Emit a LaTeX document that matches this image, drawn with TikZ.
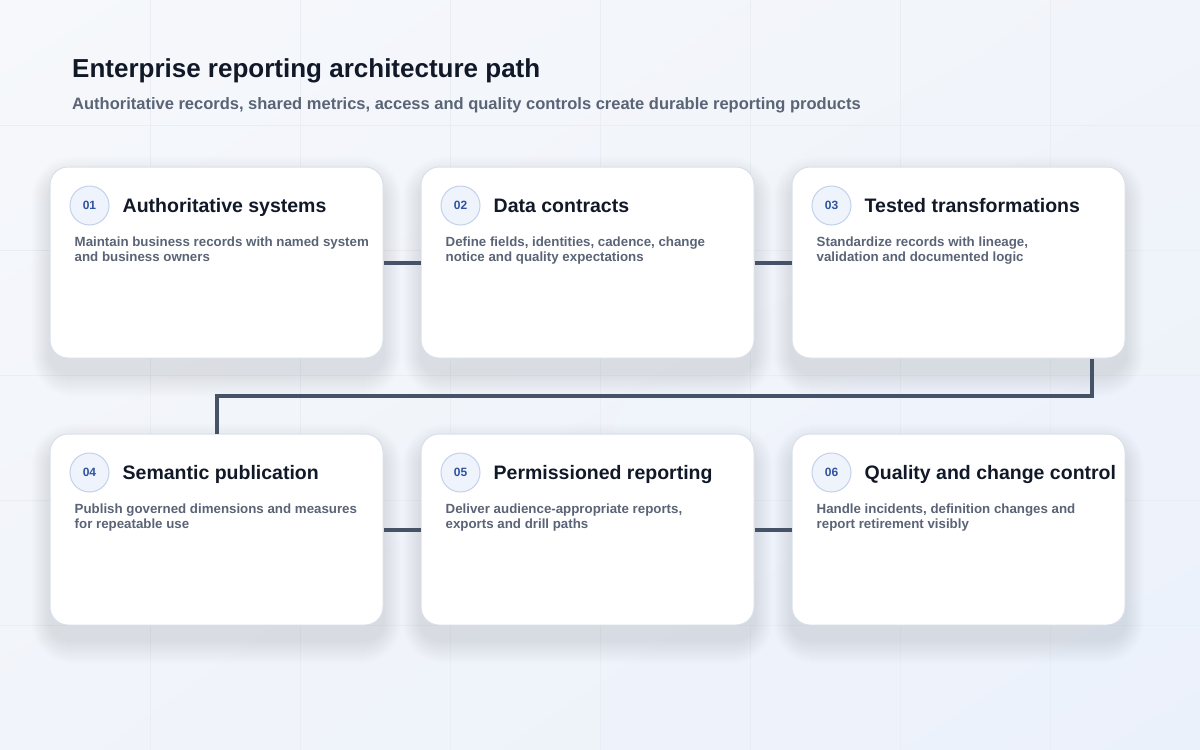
\documentclass[tikz,border=0pt]{standalone}
\usepackage{fontspec}
\setmainfont{Liberation Sans}
\usetikzlibrary{calc,shadings}
\pgfdeclarelayer{bg}
\pgfsetlayers{bg,main}
\definecolor{bgA}{HTML}{F6F8FB}
\definecolor{bgB}{HTML}{F1F4FA}
\definecolor{bgC}{HTML}{EBF1FB}
\definecolor{gridc}{HTML}{E9EDF4}
\definecolor{shadowc}{HTML}{7D8FB4}
\definecolor{cardborder}{HTML}{D9E0EA}
\definecolor{titlec}{HTML}{111827}
\definecolor{descc}{HTML}{5A6476}
\definecolor{badgefill}{HTML}{EEF3FC}
\definecolor{badgeborder}{HTML}{C3D1EA}
\definecolor{badgetext}{HTML}{2F53A0}
\definecolor{connc}{HTML}{465266}
\begin{document}
\begin{tikzpicture}[x=1pt,y=-1pt,
  card/.style={draw=cardborder, line width=1pt, fill=white, rounded corners=18pt,
    minimum width=333pt, minimum height=191pt, inner sep=0pt},
  badge/.style={circle, draw=badgeborder, fill=badgefill, line width=1pt,
    minimum size=39pt, inner sep=0pt, text=badgetext,
    font=\fontsize{12}{12}\selectfont\bfseries},
  cardtitle/.style={anchor=base west, inner sep=0pt, text=titlec,
    font=\fontsize{19.5}{22}\selectfont\bfseries},
  carddesc/.style={anchor=north west, inner sep=0pt, align=left, text=descc,
    font=\fontsize{13.3}{15}\selectfont\bfseries},
  conn/.style={draw=connc, line width=4pt, line join=miter},
  gridline/.style={draw=gridc, line width=0.9pt}]
\useasboundingbox (0,0) rectangle (1200,750);

\node[anchor=base west, inner sep=0pt, text=titlec,
  font=\fontsize{26}{30}\selectfont\bfseries] (title) at (72,77)
  {Enterprise reporting architecture path};
\node[anchor=base west, inner sep=0pt, text=descc,
  font=\fontsize{16.5}{20}\selectfont\bfseries] (subtitle) at (72,109)
  {Authoritative records, shared metrics, access and quality controls create durable reporting products};

\foreach \n/\cx/\cy/\ttl/\dsc in {
  1/216.5/262.5/{Authoritative systems}/{Maintain business records with named system\\and business owners},
  2/587.5/262.5/{Data contracts}/{Define fields, identities, cadence, change\\notice and quality expectations},
  3/958.5/262.5/{Tested transformations}/{Standardize records with lineage,\\validation and documented logic},
  4/216.5/529.5/{Semantic publication}/{Publish governed dimensions and measures\\for repeatable use},
  5/587.5/529.5/{Permissioned reporting}/{Deliver audience-appropriate reports,\\exports and drill paths},
  6/958.5/529.5/{Quality and change control}/{Handle incidents, definition changes and\\report retirement visibly}}
{
  \node[card] (c\n) at (\cx,\cy) {};
  \node[badge] (b\n) at ($(c\n.north west)+(40,39)$) {0\n};
  \node[cardtitle] (t\n) at ($(c\n.north west)+(73,46)$) {\ttl};
  \node[carddesc] (d\n) at ($(c\n.north west)+(25,70)$) {\rule{0pt}{10pt}\dsc};
}

\begin{pgfonlayer}{bg}
  \shade[upper left=bgA, upper right=bgB, lower left=bgB, lower right=bgC]
    (0,0) rectangle (1200,750);
  \foreach \x in {150,300,...,1050} \draw[gridline] (\x,0) -- (\x,750);
  \foreach \y in {125,250,...,625} \draw[gridline] (0,\y) -- (1200,\y);
  \foreach \n in {1,...,6}{
    \foreach \i [evaluate=\i as \rr using 18+\i, evaluate=\i as \hx using 0.75*\i] in {1,...,24}{
      \fill[shadowc, opacity=0.008, rounded corners=\rr pt]
        ($(c\n.north west)+(-\hx,14-\i)$) rectangle ($(c\n.south east)+(\hx,14+\i)$);
    }
  }
\end{pgfonlayer}

\draw[conn] (c1.east) -- (c2.west);
\draw[conn] (c2.east) -- (c3.west);
\draw[conn] ([xshift=-34pt]c3.south east) -- ++(0,37) -| (c4.north);
\draw[conn] (c4.east) -- (c5.west);
\draw[conn] (c5.east) -- (c6.west);
\end{tikzpicture}
\end{document}
